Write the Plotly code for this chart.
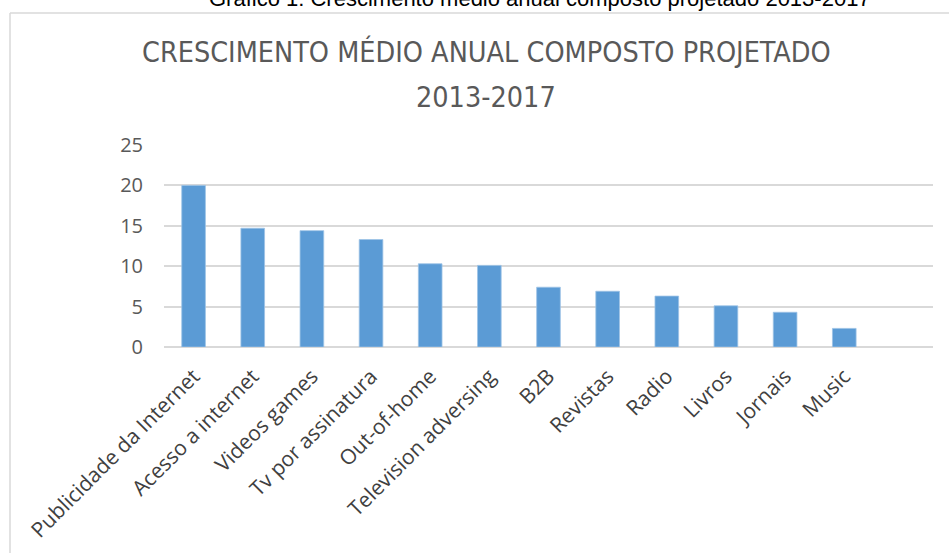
import plotly.graph_objects as go

categories = ["Publicidade da Internet", "Acesso a internet", "Videos games", "Tv por assinatura",
              "Out-of-home", "Television adversing", "B2B", "Revistas", "Radio", "Livros",
              "Jornais", "Music"]
values = [20.0, 14.7, 14.4, 13.3, 10.3, 10.1, 7.4, 6.9, 6.3, 5.1, 4.3, 2.3]
y_ticks = [0, 5, 10, 15, 20, 25]

title_line1 = "CRESCIMENTO MÉDIO ANUAL COMPOSTO PROJETADO"
title_line2 = "2013-2017"
caption_text = "Gráfico 1: Crescimento médio anual composto projetado 2013-2017"

W, H = 949, 553
L, R = 164, 933
T0, B0 = 145, 347

fig = go.Figure()
fig.add_trace(go.Bar(
    x=categories, y=values,
    marker=dict(color="#5B9BD5", line=dict(color="#9DC3E6", width=0.8)),
    width=0.4,
))

def px_x(p):
    return (p - L) / (R - L)

def px_y(p):
    return (B0 - p) / (B0 - T0)

fig.update_layout(
    width=W, height=H,
    margin=dict(l=L, r=W - R, t=T0, b=H - B0, pad=0, autoexpand=False),
    paper_bgcolor="white", plot_bgcolor="white",
    showlegend=False,
    xaxis=dict(
        type="category",
        range=[-0.5, 12.5],
        tickangle=-45,
        automargin=False,
        showgrid=False, showline=False, zeroline=False,
        ticks="",
        ticklabelstandoff=12,
        tickfont=dict(family="Open Sans, Liberation Sans, sans-serif", size=21, color="#404040"),
    ),
    yaxis=dict(
        range=[0, 25],
        tickvals=y_ticks,
        automargin=False,
        showgrid=True, gridcolor="#D9D9D9", gridwidth=1.5,
        zeroline=True, zerolinecolor="#D9D9D9", zerolinewidth=1.5,
        showline=False, ticks="",
        ticklabelstandoff=20,
        tickfont=dict(family="Open Sans, Liberation Sans, sans-serif", size=20, color="#595959"),
    ),
    font=dict(family="Open Sans, sans-serif"),
)

# chart border (left and top edges visible)
fig.add_shape(type="line", xref="paper", yref="paper",
              x0=px_x(10), x1=px_x(960), y0=px_y(13), y1=px_y(13),
              line=dict(color="#D9D9D9", width=1.5))
fig.add_shape(type="line", xref="paper", yref="paper",
              x0=px_x(10), x1=px_x(10), y0=px_y(13), y1=px_y(560),
              line=dict(color="#D9D9D9", width=1.5))

title_font = dict(family="Liberation Sans Narrow, DejaVu Sans Condensed, sans-serif", size=28.5, color="#595959")
fig.add_annotation(
    text=title_line1, xref="paper", yref="paper",
    x=px_x(486), y=px_y(52), xanchor="center", yanchor="middle",
    showarrow=False, font=title_font,
)
fig.add_annotation(
    text=title_line2, xref="paper", yref="paper",
    x=px_x(486), y=px_y(97), xanchor="center", yanchor="middle",
    showarrow=False, font=title_font,
)

# clipped caption above
fig.add_annotation(
    text=caption_text, xref="paper", yref="paper",
    x=px_x(540), y=px_y(13), xanchor="center", yanchor="bottom",
    showarrow=False,
    font=dict(family="Liberation Sans, Arial, sans-serif", size=22, color="#000000"),
)

fig.write_html("out.html")
